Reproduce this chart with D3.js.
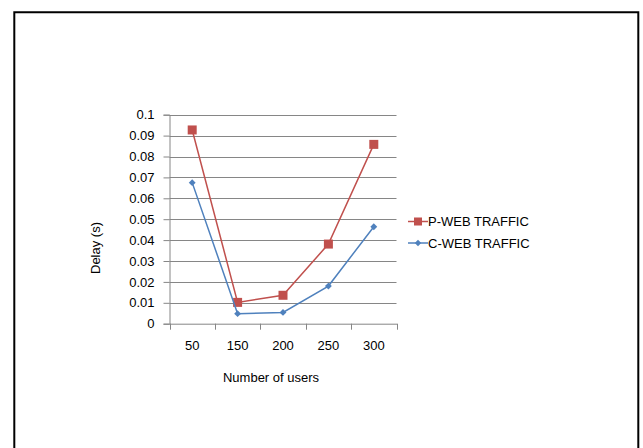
<!DOCTYPE html>
<html>
<head>
<meta charset="utf-8">
<script src="https://cdn.jsdelivr.net/npm/d3@7"></script>
<style>
  html, body { margin: 0; padding: 0; background: #fff; }
  svg { display: block; }
  text { font-family: "Liberation Sans", Arial, sans-serif; fill: #000; }
</style>
</head>
<body>
<svg id="chart" width="643" height="448"></svg>
<script>
// Delay measured per user count for two traffic types
const users = ["50", "150", "200", "250", "300"];
const pWeb = [0.0927, 0.0102, 0.0136, 0.0381, 0.0858];
const cWeb = [0.0675, 0.0048, 0.0054, 0.0180, 0.0464];
const yTicks = [0, 0.01, 0.02, 0.03, 0.04, 0.05, 0.06, 0.07, 0.08, 0.09, 0.1];
const seriesNames = ["P-WEB TRAFFIC", "C-WEB TRAFFIC"];
const seriesColors = ["#C0504D", "#4F81BD"];

const svg = d3.select("#chart");
const fontSize = "13px";

// outer frame
svg.append("path")
  .attr("d", "M14.3,460 V12.3 H638.3 V460")
  .attr("fill", "none").attr("stroke", "#000").attr("stroke-width", 2);

const plot = { left: 169.5, right: 396.5, top: 114.7, bottom: 323.7 };

const x = d3.scaleBand().domain(users).range([plot.left, plot.right]);
const y = d3.scaleLinear().domain([0, 0.1]).range([plot.bottom, plot.top]);

// horizontal gridlines
svg.append("g")
  .selectAll("line")
  .data(yTicks.slice(1))
  .join("line")
  .attr("x1", plot.left).attr("x2", plot.right)
  .attr("y1", d => Math.round(y(d)) + 0.5).attr("y2", d => Math.round(y(d)) + 0.5)
  .attr("stroke", "#868686").attr("stroke-width", 1);

// y axis
const yAxis = svg.append("g")
  .attr("transform", `translate(${plot.left},0)`)
  .call(d3.axisLeft(y).tickValues(yTicks).tickSize(6).tickPadding(9)
    .tickFormat(d => d === 0 ? "0" : String(+d.toFixed(2))));
yAxis.select(".domain").attr("stroke", "#868686");
yAxis.selectAll(".tick line").attr("stroke", "#868686");
yAxis.selectAll(".tick text").style("font-size", fontSize)
  .style("font-family", "'Liberation Sans', Arial, sans-serif").attr("fill", "#000");

// x axis
const xAxis = svg.append("g")
  .attr("transform", `translate(0,${plot.bottom})`)
  .call(d3.axisBottom(x).tickSize(0).tickPadding(17));
xAxis.select(".domain").attr("stroke", "#868686");
xAxis.selectAll(".tick text").style("font-size", fontSize)
  .style("font-family", "'Liberation Sans', Arial, sans-serif").attr("fill", "#000");
// category separator ticks
xAxis.selectAll("line.sep")
  .data(d3.range(users.length + 1))
  .join("line")
  .attr("class", "sep")
  .attr("x1", i => Math.round(plot.left + i * x.step()) + 0.5)
  .attr("x2", i => Math.round(plot.left + i * x.step()) + 0.5)
  .attr("y1", 0).attr("y2", 6)
  .attr("stroke", "#868686");

// axis titles
svg.append("text")
  .attr("transform", "translate(99.5,248) rotate(-90)")
  .attr("text-anchor", "middle")
  .style("font-size", fontSize)
  .text("Delay (s)");
svg.append("text")
  .attr("x", 271).attr("y", 382)
  .attr("text-anchor", "middle")
  .style("font-size", fontSize)
  .text("Number of users");

// series lines and markers
const cx = d => x(d) + x.bandwidth() / 2;
const line = d3.line().x(d => cx(d[0])).y(d => y(d[1]));
const data = [pWeb, cWeb];

data.forEach((vals, si) => {
  const pts = users.map((u, i) => [u, vals[i]]);
  svg.append("path")
    .datum(pts)
    .attr("d", line)
    .attr("fill", "none")
    .attr("stroke", seriesColors[si])
    .attr("stroke-width", 1.5);
  const g = svg.append("g");
  if (si === 0) {
    g.selectAll("rect").data(pts).join("rect")
      .attr("x", d => cx(d[0]) - 4.5).attr("y", d => y(d[1]) - 4.5)
      .attr("width", 9).attr("height", 9)
      .attr("fill", seriesColors[si]);
  } else {
    g.selectAll("path").data(pts).join("path")
      .attr("d", d3.symbol(d3.symbolDiamond2, 30))
      .attr("transform", d => `translate(${cx(d[0])},${y(d[1])})`)
      .attr("fill", seriesColors[si]);
  }
});

// legend
const legend = svg.append("g");
[221.5, 243].forEach((ly, si) => {
  legend.append("line")
    .attr("x1", 408).attr("x2", 428).attr("y1", ly).attr("y2", ly)
    .attr("stroke", seriesColors[si]).attr("stroke-width", 1.5);
  if (si === 0) {
    legend.append("rect").attr("x", 414).attr("y", ly - 4).attr("width", 8).attr("height", 8)
      .attr("fill", seriesColors[si]);
  } else {
    legend.append("path").attr("d", d3.symbol(d3.symbolDiamond2, 26))
      .attr("transform", `translate(418,${ly})`).attr("fill", seriesColors[si]);
  }
  legend.append("text")
    .attr("x", 428).attr("y", ly + 4.5)
    .style("font-size", fontSize)
    .text(seriesNames[si]);
});
</script>
</body>
</html>
